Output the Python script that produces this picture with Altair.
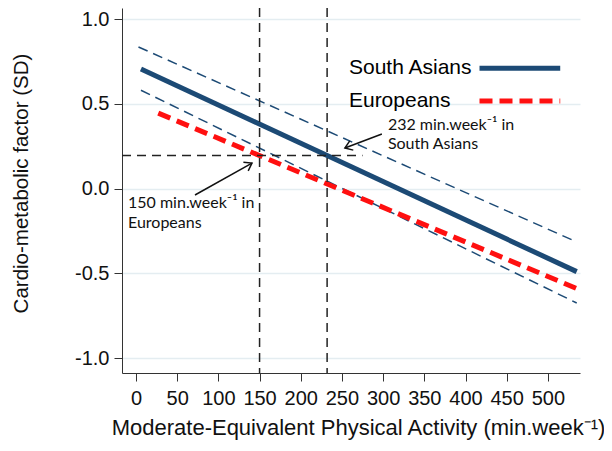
import altair as alt
import pandas as pd

# --- data ---
sa_x = [6, 535]
sa_y = [0.705, -0.49]
sa_up_y = [0.835, -0.315]
sa_up_x = [3, 535]
sa_lo_x = [6, 535]
sa_lo_y = [0.58, -0.675]
eu_x = [27, 535]
eu_y = [0.445, -0.59]

thresholds = [150, 232]
thr_level = 0.195
hline_x = [-17, 275]

x_ticks = [0, 50, 100, 150, 200, 250, 300, 350, 400, 450, 500]
y_ticks = [-1.0, -0.5, 0.0, 0.5, 1.0]
x_domain = [-17, 539]
y_domain = [-1.088, 1.065]

legend_labels = ["South Asians", "Europeans"]
legend_y = [0.71, 0.516]
legend_text_x = 258.5
legend_line_x = [417, 515]

ann_lines = [["232 min.week⁻¹ in", "South Asians"], ["150 min.week⁻¹ in", "Europeans"]]
ann_x = [305.8, -9.7]
ann_y = [[0.375, 0.262], [-0.085, -0.204]]
arrow_from = [(298.5, 0.322), (71.6, -0.038)]
arrow_to = [(253.6, 0.239), (140.8, 0.150)]
arrow_angle = [159, 331]

BLUE = "#1c4a75"
RED = "#ff1010"

xs = alt.Scale(domain=x_domain, nice=False, zero=False)
ys = alt.Scale(domain=y_domain, nice=False, zero=False)

def line_df(x, y):
    return pd.DataFrame({"x": x, "y": y})

X = alt.X("x:Q", scale=xs, axis=alt.Axis(
    values=x_ticks, title="Moderate-Equivalent Physical Activity (min.week⁻¹)",
    grid=False, tickSize=8, labelPadding=7, labelFontSize=20,
    titleFontSize=22, titleFontWeight="normal", titleX=236, titleY=61,
    titleBaseline="alphabetic", titleColor="#111", labelColor="#111",
    domainColor="#333", tickColor="#333", labelFlush=False, labelOverlap=False))
Y = alt.Y("y:Q", scale=ys, axis=alt.Axis(
    values=y_ticks, title="Cardio-metabolic factor (SD)",
    labelExpr="(datum.value < 0 ? '-' : '') + format(abs(datum.value), '.1f')",
    grid=True, gridColor="#e4edf1", gridWidth=1.5, tickSize=8, labelPadding=5,
    labelFontSize=20, titleFontSize=20.5, titleFontWeight="normal",
    titleX=-101, titleY=175, titleAngle=-90, titleAlign="center",
    titleBaseline="middle", titleColor="#111", labelColor="#111",
    domainColor="#333", tickColor="#333", labelFlush=False))

base = alt.Chart(line_df(sa_x, sa_y)).mark_line(color=BLUE, strokeWidth=5).encode(x=X, y=Y)

ci_up = alt.Chart(line_df(sa_up_x, sa_up_y)).mark_line(
    color=BLUE, strokeWidth=1.5, strokeDash=[10, 6]).encode(x="x:Q", y="y:Q")
ci_lo = alt.Chart(line_df(sa_lo_x, sa_lo_y)).mark_line(
    color=BLUE, strokeWidth=1.5, strokeDash=[10, 6]).encode(x="x:Q", y="y:Q")
eu = alt.Chart(line_df(eu_x, eu_y)).mark_line(
    color=RED, strokeWidth=5, strokeDash=[13, 7]).encode(x="x:Q", y="y:Q")

vrules = alt.Chart(pd.DataFrame({"x": thresholds})).mark_rule(
    color="#222", strokeWidth=1.5, strokeDash=[9, 6]).encode(x="x:Q")
hrule = alt.Chart(pd.DataFrame({"x": [hline_x[0]], "x2": [hline_x[1]], "y": [thr_level]})).mark_rule(
    color="#222", strokeWidth=1.5, strokeDash=[9, 6]).encode(x="x:Q", x2="x2:Q", y="y:Q")

leg_text = alt.Chart(pd.DataFrame({"x": [legend_text_x] * 2, "y": legend_y, "t": legend_labels})).mark_text(
    align="left", baseline="middle", fontSize=21, font="Liberation Sans", color="#000"
).encode(x="x:Q", y="y:Q", text="t:N")
leg_sa = alt.Chart(pd.DataFrame({"x": [legend_line_x[0]], "x2": [legend_line_x[1]], "y": [legend_y[0]]})).mark_rule(
    color=BLUE, strokeWidth=5).encode(x="x:Q", x2="x2:Q", y="y:Q")
leg_eu = alt.Chart(pd.DataFrame({"x": [legend_line_x[0]], "x2": [legend_line_x[1]], "y": [legend_y[1]]})).mark_rule(
    color=RED, strokeWidth=5, strokeDash=[13, 7]).encode(x="x:Q", x2="x2:Q", y="y:Q")

ann_rows = []
for lines, ax, ays in zip(ann_lines, ann_x, ann_y):
    for t, ay in zip(lines, ays):
        ann_rows.append({"x": ax, "y": ay, "t": t})
ann = alt.Chart(pd.DataFrame(ann_rows)).mark_text(
    align="left", baseline="middle", fontSize=16, font="Lato", color="#111"
).encode(x="x:Q", y="y:Q", text="t:N")

arr_df = pd.DataFrame({
    "x": [a[0] for a in arrow_from], "y": [a[1] for a in arrow_from],
    "x2": [b[0] for b in arrow_to], "y2": [b[1] for b in arrow_to],
})
arr_lines = alt.Chart(arr_df).mark_rule(color="#111", strokeWidth=1.5).encode(
    x="x:Q", y="y:Q", x2="x2:Q", y2="y2:Q")
head_df = pd.DataFrame({"x": [b[0] for b in arrow_to], "y": [b[1] for b in arrow_to], "a": arrow_angle})
heads = alt.Chart(head_df).mark_point(
    shape="M -1 -0.7 L 0 0 L -1 0.7", filled=False, color="#111", strokeWidth=1.5, size=200, opacity=1
).encode(x="x:Q", y="y:Q", angle=alt.Angle("a:Q", scale=None))

chart = alt.layer(base, ci_up, ci_lo, eu, vrules, hrule, leg_sa, leg_eu, leg_text, ann, arr_lines, heads).properties(
    width=458, height=365,
    autosize=alt.AutoSizeParams(type="none"),
    padding={"left": 114, "top": 0, "right": 24, "bottom": 70},
).configure_view(stroke=None).configure_axis(labelFont="Liberation Sans", titleFont="Liberation Sans")

chart.save("out.html", embed_options={"renderer": "svg", "actions": False})
